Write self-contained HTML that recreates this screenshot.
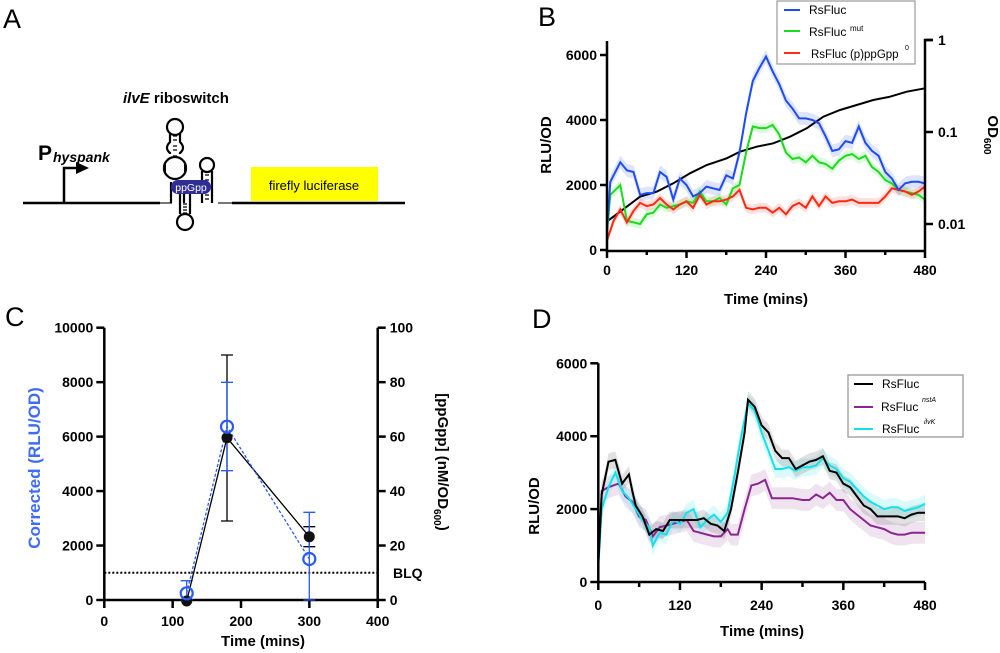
<!DOCTYPE html>
<html><head><meta charset="utf-8"><style>
html,body{margin:0;padding:0;background:#fff}
svg{display:block;font-family:"Liberation Sans",Arial,sans-serif}
.t{font-weight:bold;font-size:14px}
.ti{font-weight:bold;font-size:15px}
</style></head><body>
<svg id="s" width="1000" height="653" viewBox="0 0 1000 653" xmlns="http://www.w3.org/2000/svg">
<rect width="1000" height="653" fill="#fff"/>
<text x="3" y="28" font-size="27">A</text>
<text x="538" y="26" font-size="27">B</text>
<text x="5" y="326" font-size="27">C</text>
<text x="532" y="328" font-size="27">D</text>

<line x1="23" y1="203" x2="160" y2="203" stroke="#000" stroke-width="2.5"/>
<line x1="232" y1="203" x2="405" y2="203" stroke="#000" stroke-width="2.5"/>
<path d="M160 203 H172 M218 203 H232" stroke="#777" stroke-width="2"/>
<path d="M64 203 V168 H78" fill="none" stroke="#000" stroke-width="2.5"/>
<path d="M76 162 L89 168 L76 174Z" fill="#000"/>
<text x="38" y="160" font-size="21" font-weight="bold">P</text>
<text x="53" y="162" font-size="14" font-weight="bold" font-style="italic">hyspank</text>
<text x="123" y="103" font-size="15" font-weight="bold"><tspan font-style="italic">ilvE</tspan> riboswitch</text>
<g fill="none" stroke="#000" stroke-width="2.2">
<path d="M171 203 V182 M184 203 V182"/>
<circle cx="175" cy="127" r="8"/>
<path d="M170 134 V142 Q164 148 170 153 V157 Q163 164 168 176 M180 134 V142 Q186 148 180 153 V157 Q187 164 182 176"/>
<circle cx="175" cy="168" r="11"/>
<circle cx="207" cy="165" r="7"/>
<path d="M202 171 V203 M212 171 V203"/>
<path d="M180 193 V214 M190 193 V214"/>
<circle cx="185" cy="222" r="8"/>
</g>
<rect x="166" y="154" width="18" height="26" fill="#fff"/>
<circle cx="175" cy="168" r="11" fill="none" stroke="#000" stroke-width="2.2"/>
<g stroke="#000" stroke-width="1.2">
<path d="M173 136h4M173 140h4M173 146h4M173 150h4M173 156h4M205 175h4M205 180h4M205 185h4M205 195h4M205 199h4M183 204h4M183 207h4M183 210h4M183 213h4"/>
</g>
<rect x="171" y="180" width="40" height="14" rx="7" fill="#2e2e96"/>
<text x="191" y="191" font-size="10.5" fill="#fff" text-anchor="middle">ppGpp</text>
<rect x="251" y="167" width="127" height="34" fill="#ffff00"/>
<text x="314" y="190" font-size="13" text-anchor="middle">firefly luciferase</text>

<g id="plots"></g>
</svg>
<script>
var NS="http://www.w3.org/2000/svg";
var G=document.getElementById("plots");
function el(tag,attrs,txt){var e=document.createElementNS(NS,tag);for(var k in attrs)e.setAttribute(k,attrs[k]);if(txt!==undefined)e.textContent=txt;G.appendChild(e);return e;}
function path(pts,fx,fy){return pts.map(function(p,i){return (i?"L":"M")+fx(p[0]).toFixed(1)+" "+fy(p[1]).toFixed(1);}).join(" ");}
function band(pts,fx,fy,w){var up=pts.map(function(p){return [p[0],p[1]+w]}),dn=pts.map(function(p){return [p[0],Math.max(0,p[1]-w)]}).reverse();return path(up.concat(dn),fx,fy)+"Z";}

(function(){
var x0=607,x1=925,y0=250,yk=195/6000;
var fx=function(t){return x0+t*(x1-x0)/480},fy=function(v){return y0-v*yk};
var blue=[[0,600],[5,2100],[20,2700],[30,2450],[40,2400],[50,1700],[60,1750],[70,1750],[80,2400],[90,2250],[100,1550],[110,2200],[120,2000],[130,1650],[140,1750],[150,1950],[160,1900],[170,1850],[180,2300],[190,2200],[200,3000],[210,4200],[220,5200],[230,5600],[240,5950],[250,5500],[260,5100],[270,4600],[280,4350],[290,4050],[300,4050],[310,4000],[320,3900],[330,3500],[340,3050],[350,3100],[360,3350],[370,3300],[380,3800],[390,3300],[400,3050],[410,2900],[420,2400],[430,2200],[440,1850],[450,2050],[460,2100],[470,2100],[480,2050]];
var green=[[0,500],[5,1700],[20,2000],[30,900],[40,850],[50,800],[60,1100],[70,1150],[80,1400],[90,1300],[100,1350],[110,1400],[120,1500],[130,1450],[140,1800],[150,1500],[160,1500],[170,1600],[180,1400],[190,1900],[200,2000],[210,3000],[220,3800],[230,3750],[240,3750],[250,3850],[260,3550],[270,3000],[280,2800],[290,2850],[300,2700],[310,2900],[320,2700],[330,2650],[340,2500],[350,2750],[360,2900],[370,2950],[380,2800],[390,2900],[400,2550],[410,2400],[420,2150],[430,2050],[440,1850],[450,1800],[460,1750],[470,1700],[480,1550]];
var red=[[0,300],[10,900],[20,1250],[30,850],[40,1200],[50,1450],[60,1350],[70,1400],[80,1600],[90,1400],[100,1250],[110,1400],[120,1500],[130,1300],[140,1700],[150,1400],[160,1500],[170,1500],[180,1550],[190,1650],[200,1850],[210,1300],[220,1250],[230,1300],[240,1300],[250,1150],[260,1300],[270,1100],[280,1350],[290,1450],[300,1300],[310,1650],[320,1350],[330,1650],[340,1450],[350,1500],[360,1500],[370,1550],[380,1450],[390,1450],[400,1450],[410,1450],[420,1650],[430,1900],[440,1850],[450,1800],[460,1700],[470,1800],[480,1950]];
el("path",{d:band(blue,fx,fy,200),fill:"#1f4cf0",opacity:.15});
el("path",{d:band(green,fx,fy,150),fill:"#22dd22",opacity:.15});
el("path",{d:band(red,fx,fy,150),fill:"#ff3020",opacity:.15});
var od=[[200,665],[300,590],[350,575],[400,550],[450,520],[500,495],[560,475],[600,455],[650,440],[700,430],[750,410],[800,385],[850,350],[900,330],[950,315],[1000,300],[1050,290],[1100,275],[1155,265]];
el("path",{d:path(od,function(p){return 540+p/3},function(p){return p/3}),fill:"none",stroke:"#000","stroke-width":2});
el("path",{d:path(green,fx,fy),fill:"none",stroke:"#1bdc1b","stroke-width":2});
el("path",{d:path(red,fx,fy),fill:"none",stroke:"#ff2a10","stroke-width":2});
el("path",{d:path(blue,fx,fy),fill:"none",stroke:"#1f4cf0","stroke-width":2});
el("path",{d:"M"+x0+" 41 V"+(y0+1)+" H"+(x1+1)+" M"+x1+" "+(y0)+" V40 H933",fill:"none",stroke:"#000","stroke-width":2.5});
[0,2000,4000,6000].forEach(function(v){var y=fy(v);el("line",{x1:x0-7,y1:y,x2:x0,y2:y,stroke:"#000","stroke-width":2.5});el("text",{x:x0-10,y:y+5,"text-anchor":"end",class:"t"},v);});
for(var t=0;t<=480;t+=60){var x=fx(t);el("line",{x1:x,y1:y0,x2:x,y2:y0+(t%120?5:8),stroke:"#000","stroke-width":2.5});if(t%120==0)el("text",{x:x,y:y0+25,"text-anchor":"middle",class:"t"},t);}
[[40,"1"],[132,"0.1"],[224,"0.01"]].forEach(function(a){el("line",{x1:x1,y1:a[0],x2:x1+8,y2:a[0],stroke:"#000","stroke-width":2.5});el("text",{x:x1+13,y:a[0]+5,class:"t"},a[1]);});
el("text",{x:766,y:304,"text-anchor":"middle",class:"ti"},"Time (mins)");
el("text",{x:0,y:0,transform:"translate(551,145) rotate(-90)","text-anchor":"middle",class:"ti"},"RLU/OD");
var o=el("text",{x:0,y:0,transform:"translate(988,135) rotate(90)","text-anchor":"middle",class:"ti"},"OD");
var s=document.createElementNS(NS,"tspan");s.setAttribute("font-size","10");s.setAttribute("dy","4");s.textContent="600";o.appendChild(s);
el("rect",{x:777,y:1,width:138,height:63,fill:"#fff",stroke:"#999","stroke-width":1.2});
[[10,"#1f4cf0"],[31,"#1bdc1b"],[53,"#ff2a10"]].forEach(function(a){el("line",{x1:784,y1:a[0],x2:800,y2:a[0],stroke:a[1],"stroke-width":2});});
el("text",{x:809,y:14,"font-size":12},"RsFluc");
el("text",{x:809,y:36,"font-size":12},"RsFluc");el("text",{x:850,y:31,"font-size":8},"mut");
el("text",{x:811,y:58,"font-size":11.5},"RsFluc  (p)ppGpp");el("text",{x:905,y:50,"font-size":7},"0");
})();

(function(){
var x0=104.3,x1=377.7,y0=600,yt=327.7;
var fx=function(t){return x0+t*(x1-x0)/400},fy=function(v){return y0-v*(y0-yt)/10000};
el("line",{x1:x0,y1:572.7,x2:x1,y2:572.7,stroke:"#000","stroke-width":2,"stroke-dasharray":"2,2"});
el("path",{d:"M"+x0+" "+yt+" V"+y0+" H"+x1+" V"+yt,fill:"none",stroke:"#000","stroke-width":2.5});
for(var v=0;v<=10000;v+=2000){var y=fy(v);el("line",{x1:x0-8,y1:y,x2:x0,y2:y,stroke:"#000","stroke-width":2.5});el("text",{x:x0-11,y:y+5,"text-anchor":"end",class:"t"},v);
el("line",{x1:x1,y1:y,x2:x1+8,y2:y,stroke:"#000","stroke-width":2.5});el("text",{x:x1+12,y:y+5,class:"t"},v/100);}
for(var t=0;t<=400;t+=100){var x=fx(t);el("line",{x1:x,y1:y0,x2:x,y2:y0+8,stroke:"#000","stroke-width":2.5});el("text",{x:x,y:y0+26,"text-anchor":"middle",class:"t"},t);}
el("text",{x:393,y:578,class:"t"},"BLQ");
el("text",{x:263,y:646,"text-anchor":"middle",class:"ti"},"Time (mins)");
el("text",{x:0,y:0,transform:"translate(40,468) rotate(-90)","text-anchor":"middle","font-weight":"bold","font-size":17,fill:"#3f6cf5"},"Corrected (RLU/OD)");
var o=el("text",{x:0,y:0,transform:"translate(438,462) rotate(90)","text-anchor":"middle",class:"ti"},"[ppGpp] (nM/OD");
var s=document.createElementNS(NS,"tspan");s.setAttribute("font-size","10");s.setAttribute("dy","4");s.textContent="600";o.appendChild(s);
var s2=document.createElementNS(NS,"tspan");s2.setAttribute("dy","-4");s2.textContent=")";o.appendChild(s2);
function eb(x,a,b,c){el("path",{d:"M"+x+" "+a+" V"+b+" M"+(x-6)+" "+a+" H"+(x+6)+" M"+(x-6)+" "+b+" H"+(x+6),stroke:c,"stroke-width":1.3,fill:"none"});}
eb(227,355,521,"#000");eb(309.3,526.7,546.7,"#000");
eb(227,382.3,470.7,"#2a5cf5");eb(186.7,580.7,600,"#2a5cf5");eb(309.3,512.3,600,"#2a5cf5");
el("path",{d:"M186.7 601 L227 437.7 L309.3 536.7",fill:"none",stroke:"#000","stroke-width":1.3});
el("path",{d:"M186.7 593.3 L227 426.7 L309.3 559",fill:"none",stroke:"#2a5cf5","stroke-width":1.3,"stroke-dasharray":"3,2"});
[[186.7,601],[227,437.7],[309.3,536.7]].forEach(function(p){el("circle",{cx:p[0],cy:p[1],r:5.5,fill:"#111"});});
[[186.7,593.3],[227,426.7],[309.3,559]].forEach(function(p){el("circle",{cx:p[0],cy:p[1],r:6,fill:"none",stroke:"#2a5cf5","stroke-width":2.2});});
})();

(function(){
var x0=598.3,x1=925,y0=582,yt=363.3;
var fx=function(t){return x0+t*(x1-x0)/480},fy=function(v){return y0-v*(y0-yt)/6000};
var blk=[[0,450],[5,2400],[15,3300],[25,3350],[35,2700],[45,2950],[50,2500],[55,2100],[65,1800],[75,1300],[85,1450],[95,1400],[105,1700],[115,1700],[125,1700],[135,1700],[145,1700],[155,1750],[165,1600],[175,1550],[185,1400],[195,2000],[205,3000],[215,4100],[220,5000],[230,4800],[240,4300],[250,4100],[260,3600],[270,3400],[280,3400],[290,3100],[300,3200],[310,3300],[320,3350],[330,3450],[340,3050],[350,3000],[360,2700],[370,2600],[380,2350],[390,2100],[400,2000],[410,1800],[420,1800],[430,1800],[440,1800],[450,1750],[460,1850],[470,1900],[480,1900]];
var cy=[[0,400],[5,2000],[15,2600],[25,3000],[35,2500],[45,2300],[55,2000],[65,1700],[75,1500],[80,1000],[90,1350],[100,1300],[110,1700],[120,1600],[130,1900],[140,2000],[150,1500],[160,1700],[170,1850],[180,1650],[190,1900],[200,2900],[210,4000],[220,4900],[230,4700],[240,4100],[250,3600],[260,3100],[270,3100],[280,3150],[290,3050],[300,3150],[310,3150],[320,3200],[330,3400],[340,3200],[350,3100],[360,2850],[370,2750],[380,2550],[390,2350],[400,2200],[410,2100],[420,2000],[430,2050],[440,2050],[450,1950],[460,2000],[470,2050],[480,2150]];
var pu=[[0,500],[5,2500],[15,2600],[30,2700],[40,2350],[50,2200],[60,1800],[70,1700],[80,1250],[90,1500],[100,1550],[110,1600],[120,1650],[130,1700],[140,1400],[150,1350],[160,1300],[170,1250],[180,1250],[190,1450],[195,1300],[205,1300],[215,2000],[225,2650],[235,2700],[245,2800],[255,2300],[265,2300],[275,2300],[285,2300],[300,2250],[310,2250],[320,2400],[330,2300],[340,2450],[350,2250],[360,2250],[370,2000],[380,1850],[390,1700],[400,1550],[410,1500],[420,1450],[430,1350],[440,1300],[450,1300],[460,1350],[470,1350],[480,1350]];
el("path",{d:band(pu,fx,fy,300),fill:"#8a2a8a",opacity:.13});
el("path",{d:band(cy,fx,fy,250),fill:"#10e0e8",opacity:.15});
el("path",{d:band(blk,fx,fy,230),fill:"#333",opacity:.15});
el("path",{d:path(pu,fx,fy),fill:"none",stroke:"#8b258f","stroke-width":2});
el("path",{d:path(cy,fx,fy),fill:"none",stroke:"#12e2ec","stroke-width":2});
el("path",{d:path(blk,fx,fy),fill:"none",stroke:"#000","stroke-width":2});
el("path",{d:"M"+x0+" "+yt+" V"+y0+" H"+x1,fill:"none",stroke:"#000","stroke-width":2.5});
[0,2000,4000,6000].forEach(function(v){var y=fy(v);el("line",{x1:x0-8,y1:y,x2:x0,y2:y,stroke:"#000","stroke-width":2.5});el("text",{x:x0-11,y:y+5,"text-anchor":"end",class:"t"},v);});
for(var t=0;t<=480;t+=60){var x=fx(t);el("line",{x1:x,y1:y0,x2:x,y2:y0+(t%120?5:8),stroke:"#000","stroke-width":2.5});if(t%120==0)el("text",{x:x,y:y0+28,"text-anchor":"middle",class:"t"},t);}
el("text",{x:762,y:636,"text-anchor":"middle",class:"ti"},"Time (mins)");
el("text",{x:0,y:0,transform:"translate(539,506) rotate(-90)","text-anchor":"middle",class:"ti"},"RLU/OD");
el("rect",{x:848,y:375,width:115,height:62,fill:"#fff",stroke:"#999","stroke-width":1.3});
[[384,"#000"],[407,"#8b258f"],[429,"#12e2ec"]].forEach(function(a){el("line",{x1:854,y1:a[0],x2:873,y2:a[0],stroke:a[1],"stroke-width":2});});
el("text",{x:882,y:388,"font-size":12},"RsFluc");
el("text",{x:881,y:411,"font-size":12},"RsFluc");el("text",{x:922,y:402,"font-size":7,"font-style":"italic"},"nstA");
el("text",{x:882,y:433,"font-size":12},"RsFluc");el("text",{x:924,y:424,"font-size":7,"font-style":"italic"},"ilvK");
})();
</script>
</body></html>
